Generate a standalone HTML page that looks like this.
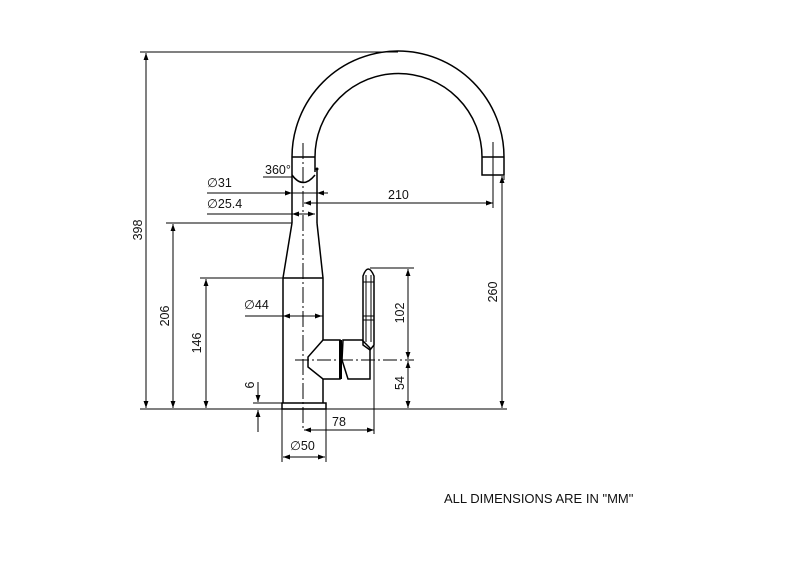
<!DOCTYPE html>
<html><head><meta charset="utf-8"><style>
html,body{margin:0;padding:0;background:#fff;}
svg{display:block;}
text{font-family:"Liberation Sans",sans-serif;font-size:12.5px;fill:#111;}
</style></head><body>
<svg width="800" height="566" viewBox="0 0 800 566" xmlns="http://www.w3.org/2000/svg">
<defs>
<marker id="a" viewBox="0 0 10 10" refX="10" refY="5" markerWidth="7" markerHeight="7" orient="auto-start-reverse" markerUnits="userSpaceOnUse"><path d="M0,1.5 L10,5 L0,8.5z" fill="#000"/></marker>
</defs>
<g stroke="#000" fill="none" stroke-width="1">
<line x1="140" y1="409" x2="507" y2="409"/>
<line x1="140" y1="52" x2="398" y2="52"/>
<line x1="166" y1="223" x2="292" y2="223"/>
<line x1="200" y1="278" x2="283" y2="278"/>
<line x1="370" y1="268" x2="414" y2="268"/>
<line x1="295" y1="360" x2="414" y2="360" stroke-dasharray="14,3,2,3"/>
<line x1="253" y1="403" x2="282" y2="403"/>
<line x1="504" y1="176" x2="504" y2="180"/>
<line x1="146" y1="53" x2="146" y2="408" marker-start="url(#a)" marker-end="url(#a)"/>
<line x1="173" y1="224" x2="173" y2="408" marker-start="url(#a)" marker-end="url(#a)"/>
<line x1="206" y1="279" x2="206" y2="408" marker-start="url(#a)" marker-end="url(#a)"/>
<line x1="502" y1="176" x2="502" y2="408" marker-start="url(#a)" marker-end="url(#a)"/>
<line x1="408" y1="269" x2="408" y2="359" marker-start="url(#a)" marker-end="url(#a)"/>
<line x1="408" y1="361" x2="408" y2="408" marker-start="url(#a)" marker-end="url(#a)"/>
<line x1="258" y1="382" x2="258" y2="402" marker-end="url(#a)"/>
<line x1="258" y1="432" x2="258" y2="410" marker-end="url(#a)"/>
<line x1="207" y1="193" x2="317" y2="193"/>
<line x1="280" y1="193" x2="292" y2="193" marker-end="url(#a)"/>
<line x1="328" y1="193" x2="317" y2="193" marker-end="url(#a)"/>
<line x1="207" y1="214" x2="315" y2="214"/>
<line x1="292" y1="214" x2="315" y2="214" marker-start="url(#a)" marker-end="url(#a)"/>
<line x1="304" y1="203" x2="493" y2="203" marker-start="url(#a)" marker-end="url(#a)"/>
<line x1="245" y1="316" x2="323" y2="316"/>
<line x1="283" y1="316" x2="322" y2="316" marker-start="url(#a)" marker-end="url(#a)"/>
<line x1="304" y1="430" x2="374" y2="430" marker-start="url(#a)" marker-end="url(#a)"/>
<line x1="374" y1="345" x2="374" y2="434"/>
<line x1="282" y1="409" x2="282" y2="462"/>
<line x1="326" y1="409" x2="326" y2="462"/>
<line x1="283" y1="457" x2="325" y2="457" marker-start="url(#a)" marker-end="url(#a)"/>
<line x1="263" y1="177" x2="292" y2="177"/>
<line x1="303" y1="143" x2="303" y2="428" stroke-dasharray="16,3,2,3"/>
<line x1="493" y1="142" x2="493" y2="208"/>
</g>
<g stroke="#000" fill="none" stroke-width="1.5">
<path d="M292,157 A106,106 0 0 1 504,157 L504,175 L482,175 L482,157 A83.5,83.5 0 0 0 315,157"/>
<line x1="482" y1="157" x2="504" y2="157"/>
<line x1="292" y1="157" x2="315" y2="157"/>
<line x1="292" y1="157" x2="292" y2="223"/>
<line x1="317" y1="170" x2="317" y2="223"/>
<line x1="315" y1="157" x2="315" y2="172"/>
<path d="M292,175 Q303,190 315,175"/>
<path d="M292,223 L283,278 L283,403 M317,223 L323,278 L323,340"/>
<line x1="283" y1="278" x2="323" y2="278"/>
<rect x="282" y="403" width="44" height="6"/>
<line x1="323" y1="379" x2="323" y2="403"/>
<path d="M323,340 L340,340 L340,379 L323,379 L308,367 L308,357 Z"/>
<path d="M343,340 L362,340 L370,348 L370,379 L348,379 L342,360 Z"/>
<path d="M363,345 L363,276 Q368,262 374,276 L374,345 L370,350 Z"/>
<line x1="366" y1="275" x2="366" y2="342" stroke-width="1"/>
<line x1="371" y1="275" x2="371" y2="342" stroke-width="1"/>
<line x1="363" y1="282" x2="374" y2="282" stroke-width="1"/>
<line x1="363" y1="316" x2="374" y2="316" stroke-width="1"/>
<line x1="363" y1="320" x2="374" y2="320" stroke-width="1"/>
</g>
<rect x="339" y="340" width="3" height="39" fill="#000"/>
<circle cx="317" cy="169" r="1.5" fill="#000"/>
<g>
<text x="265" y="174">360°</text>
<text x="207" y="187">∅31</text>
<text x="207" y="208">∅25.4</text>
<text x="388" y="199">210</text>
<text x="244" y="309">∅44</text>
<text x="332" y="426">78</text>
<text x="290" y="450">∅50</text>
<text transform="translate(142,230) rotate(-90)" text-anchor="middle">398</text>
<text transform="translate(169,316) rotate(-90)" text-anchor="middle">206</text>
<text transform="translate(201,343) rotate(-90)" text-anchor="middle">146</text>
<text transform="translate(497,292) rotate(-90)" text-anchor="middle">260</text>
<text transform="translate(404,313) rotate(-90)" text-anchor="middle">102</text>
<text transform="translate(404,383) rotate(-90)" text-anchor="middle">54</text>
<text transform="translate(254,385) rotate(-90)" text-anchor="middle">6</text>
<text x="444" y="503" style="font-size:13px">ALL DIMENSIONS ARE IN "MM"</text>
</g>
</svg>
</body></html>
